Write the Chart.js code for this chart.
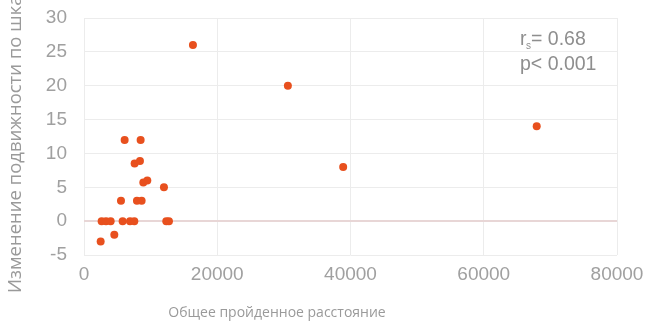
<!DOCTYPE html>
<html>
<head>
<meta charset="utf-8">
<script src="https://cdn.jsdelivr.net/npm/chart.js@4/dist/chart.umd.min.js"></script>
<style>
html,body{margin:0;padding:0;background:#fff;}
#wrap{position:relative;width:650px;height:329px;}
canvas{display:block;}
</style>
</head>
<body>
<div id="wrap"><canvas id="c" width="650" height="329"></canvas></div>
<script>
const distance = [2500, 2650, 3300, 4000, 4550, 5550, 5800, 6100, 6900, 7550, 7600, 7950, 8400, 8500, 8650, 8900, 9500, 12000, 12350, 12750, 16350, 30600, 38900, 67950];
const mobilityChange = [-3, 0, 0, 0, -2, 3, 0, 12, 0, 0, 8.5, 3, 8.9, 12, 3, 5.7, 6, 5, 0, 0, 26, 20, 8, 14];
const xTicks = [0, 20000, 40000, 60000, 80000];
const yTicks = [-5, 0, 5, 10, 15, 20, 25, 30];
const xTitle = 'Общее пройденное расстояние';
const yTitle = 'Изменение подвижности по шкале';
const statLines = ['r', '= 0.68', 'p< 0.001'];

const points = distance.map((d, i) => ({x: d, y: mobilityChange[i]}));
const tickFont = {family: '"Liberation Sans", Arial, sans-serif', size: 19};
const tickColor = '#a0a0a0';

const textPlugin = {
  id: 'texts',
  afterDraw(chart) {
    const ctx = chart.ctx;
    ctx.save();
    ctx.fillStyle = '#9a9a9a';
    ctx.font = '14px "Open Sans", "Noto Sans", sans-serif';
    ctx.textAlign = 'center';
    ctx.textBaseline = 'middle';
    ctx.fillText(xTitle, 277, 313);
    ctx.save();
    ctx.translate(16, 293);
    ctx.rotate(-Math.PI / 2);
    ctx.textAlign = 'left';
    ctx.font = '18.5px "Open Sans", "Noto Sans", sans-serif';
    ctx.fillText(yTitle, 0, 0);
    ctx.restore();
    // stats annotation
    ctx.fillStyle = '#8e8e8e';
    const f = '19.5px "Liberation Sans", Arial, sans-serif';
    ctx.font = f;
    ctx.textAlign = 'left';
    ctx.textBaseline = 'middle';
    const x0 = 520;
    ctx.fillText(statLines[0], x0, 40);
    const rw = ctx.measureText(statLines[0]).width;
    ctx.font = '10px "Liberation Sans", Arial, sans-serif';
    ctx.fillText('s', x0 + rw - 0.5, 46);
    const sw = ctx.measureText('s').width;
    ctx.font = f;
    ctx.fillText(statLines[1], x0 + rw + sw - 0.5, 40);
    ctx.fillText(statLines[2], x0, 65);
    ctx.restore();
  }
};

new Chart(document.getElementById('c'), {
  type: 'scatter',
  data: {
    datasets: [{
      data: points,
      backgroundColor: '#e8501e',
      borderColor: '#e8501e',
      borderWidth: 0,
      pointRadius: 4,
      pointHoverRadius: 4
    }]
  },
  options: {
    responsive: false,
    animation: false,
    devicePixelRatio: 1,
    layout: {padding: {left: 0, right: 33, top: 18, bottom: 0}},
    plugins: {legend: {display: false}, tooltip: {enabled: false}},
    scales: {
      x: {
        type: 'linear',
        min: 0, max: 80000,
        afterBuildTicks: s => { s.ticks = xTicks.map(v => ({value: v})); },
        afterFit: s => { s.height = 74; s.paddingLeft = 0; s.paddingRight = 0; },
        border: {display: false},
        grid: {color: '#ececec', lineWidth: 1, drawTicks: false},
        ticks: {color: tickColor, font: tickFont, padding: 8, maxRotation: 0, callback: v => String(v)}
      },
      y: {
        type: 'linear',
        min: -5, max: 30,
        afterBuildTicks: s => { s.ticks = yTicks.map(v => ({value: v})); },
        afterFit: s => { s.width = 84; s.paddingTop = 0; s.paddingBottom = 0; },
        border: {display: false},
        grid: {
          color: ctx => (ctx.tick && ctx.tick.value === 0) ? '#e8d6d6' : '#ececec',
          lineWidth: ctx => (ctx.tick && ctx.tick.value === 0) ? 2 : 1,
          drawTicks: false
        },
        ticks: {color: tickColor, font: tickFont, padding: 17, callback: v => String(v)}
      }
    }
  },
  plugins: [textPlugin]
});
</script>
</body>
</html>
